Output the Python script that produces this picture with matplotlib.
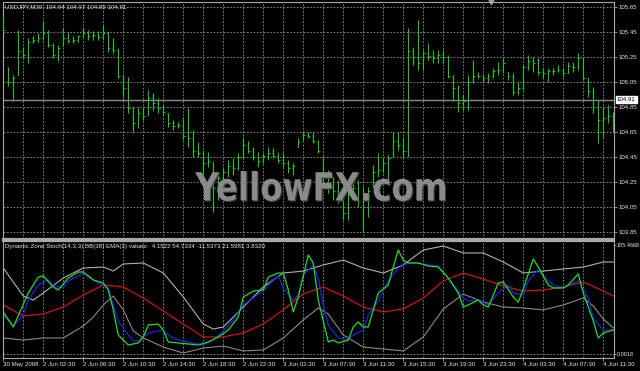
import numpy as np
import matplotlib
matplotlib.use('Agg')
import matplotlib.pyplot as plt
from matplotlib.textpath import TextPath
from matplotlib.patches import PathPatch
from matplotlib.font_manager import FontProperties
from matplotlib.transforms import Affine2D, IdentityTransform

plt.rcParams['font.family'] = ['Liberation Sans', 'DejaVu Sans']

# USDJPY M30 bars
high = [105.58, 105.17, 105.11, 105.47, 105.33, 105.40, 105.42, 105.44, 105.54, 105.47,
        105.36, 105.35, 105.48, 105.45, 105.42, 105.43, 105.48, 105.47, 105.46, 105.46,
        105.51, 105.46, 105.40, 105.32, 105.11, 105.09, 104.85, 104.85, 104.85, 104.99,
        104.96, 104.92, 104.87, 104.80, 104.75, 104.73, 104.77, 104.84, 104.67, 104.57,
        104.51, 104.49, 104.41, 104.32, 104.37, 104.43, 104.44, 104.48, 104.61, 104.58,
        104.53, 104.49, 104.48, 104.53, 104.52, 104.49, 104.48, 104.43, 104.40, 104.60,
        104.65, 104.65, 104.65, 104.59, 104.45, 104.35, 104.29, 104.27, 104.19, 104.21,
        104.27, 104.27, 104.21, 104.21, 104.39, 104.48, 104.45, 104.47, 104.65, 104.65,
        104.61, 105.48, 105.33, 105.55, 105.31, 105.36, 105.31, 105.31, 105.31, 105.27,
        105.11, 105.03, 104.95, 105.11, 105.23, 105.13, 105.11, 105.12, 105.16, 105.21,
        105.24, 105.13, 105.12, 105.05, 105.19, 105.27, 105.25, 105.24, 105.16, 105.16,
        105.16, 105.19, 105.16, 105.21, 105.21, 105.28, 105.24, 105.08, 105.01, 104.91,
        104.84, 104.87, 104.81]
low = [105.45, 105.02, 104.91, 105.11, 105.24, 105.20, 105.36, 105.37, 105.39, 105.33,
       105.24, 105.22, 105.34, 105.36, 105.36, 105.37, 105.41, 105.39, 105.39, 105.39,
       105.39, 105.29, 105.28, 105.08, 104.93, 104.80, 104.65, 104.68, 104.75, 104.79,
       104.83, 104.80, 104.79, 104.69, 104.67, 104.68, 104.59, 104.53, 104.45, 104.45,
       104.31, 104.37, 104.01, 104.11, 104.25, 104.29, 104.31, 104.35, 104.44, 104.48,
       104.43, 104.37, 104.40, 104.43, 104.44, 104.40, 104.37, 104.32, 104.31, 104.53,
       104.59, 104.60, 104.56, 104.48, 104.21, 104.16, 104.11, 104.08, 103.95, 103.95,
       104.13, 104.05, 103.85, 103.97, 104.21, 104.29, 104.32, 104.27, 104.45, 104.51,
       104.45, 104.45, 105.19, 105.15, 105.15, 105.23, 105.20, 105.20, 105.20, 105.08,
       104.91, 104.81, 104.83, 104.83, 105.04, 105.08, 105.05, 105.04, 105.08, 105.11,
       105.12, 105.07, 104.95, 104.95, 104.99, 105.15, 105.13, 105.11, 105.08, 105.05,
       105.11, 105.13, 105.09, 105.12, 105.13, 105.15, 105.07, 104.93, 104.80, 104.56,
       104.61, 104.72, 104.65]
close = [105.47, 105.05, 105.08, 105.30, 105.27, 105.37, 105.39, 105.40, 105.44, 105.35,
         105.27, 105.32, 105.40, 105.38, 105.39, 105.42, 105.44, 105.42, 105.43, 105.41,
         105.44, 105.32, 105.31, 105.10, 105.00, 104.84, 104.72, 104.80, 104.78, 104.92,
         104.88, 104.84, 104.81, 104.72, 104.70, 104.71, 104.62, 104.60, 104.50, 104.48,
         104.40, 104.42, 104.20, 104.28, 104.33, 104.38, 104.36, 104.45, 104.55, 104.50,
         104.45, 104.42, 104.46, 104.48, 104.46, 104.43, 104.40, 104.36, 104.38, 104.57,
         104.63, 104.62, 104.58, 104.50, 104.30, 104.22, 104.18, 104.12, 104.00, 104.15,
         104.20, 104.10, 104.05, 104.18, 104.33, 104.35, 104.40, 104.44, 104.58, 104.55,
         104.50, 105.30, 105.25, 105.20, 105.28, 105.26, 105.24, 105.27, 105.25, 105.10,
         105.00, 104.88, 104.90, 105.05, 105.10, 105.10, 105.08, 105.10, 105.14, 105.15,
         105.20, 105.10, 104.97, 105.00, 105.17, 105.22, 105.20, 105.13, 105.12, 105.14,
         105.14, 105.15, 105.12, 105.18, 105.17, 105.24, 105.08, 104.98, 104.85, 104.75,
         104.76, 104.78, 104.70]
first_open = 105.50
bid = 104.91

price_ticks = [105.65, 105.45, 105.25, 105.05, 104.85, 104.65, 104.45, 104.25, 104.05, 103.85]

# Dynamic Zone Stoch lines (bar index, value)
green_idx = [0, 2, 5, 7, 8, 10, 11, 13, 15, 16, 18, 20, 21, 22, 23, 25, 27, 28, 29, 31,
             32, 33, 35, 37, 39, 41, 43, 45, 47, 48, 50, 52, 53, 55, 56, 57, 58, 59, 61, 62,
             63, 65, 66, 67, 69, 70, 71, 72, 73, 75, 77, 78, 79, 80, 81, 83, 85, 87, 89, 91,
             92, 93, 95, 96, 97, 99, 100, 102, 103, 104, 106, 107, 109, 110, 112, 113, 115, 116,
             118, 119, 120, 122]
green_val = [38.5, 24.8, 56.0, 70.6, 71.6, 61.5, 58.7, 69.7, 75.2, 75.2, 67.9, 65.1, 58.7,
             40.4, 17.4, 8.3, 10.1, 15.6, 26.6, 27.5, 22.0, 11.0, 10.1, 9.2, 8.3, 11.0, 15.6,
             22.0, 33.9, 52.3, 57.8, 58.7, 70.6, 74.3, 74.3, 58.7, 38.5, 52.3, 90.8, 83.5,
             49.5, 11.0, 12.8, 10.1, 12.8, 24.8, 29.4, 24.8, 24.8, 56.0, 63.3, 79.8, 95.4,
             86.2, 83.5, 83.5, 80.7, 79.8, 69.7, 56.0, 43.1, 45.0, 49.5, 45.0, 43.1, 65.1,
             66.1, 52.3, 47.7, 59.6, 87.2, 79.8, 63.3, 60.6, 60.6, 63.3, 73.4, 56.0, 30.3,
             14.7, 19.3, 22.0]
blue_idx = [0, 2, 4, 5, 7, 9, 10, 12, 13, 15, 16, 18, 19, 21, 22, 23, 25, 26, 27, 29,
            31, 32, 34, 36, 38, 40, 42, 44, 46, 48, 50, 52, 53, 55, 56, 58, 59, 60, 62, 63,
            64, 65, 67, 69, 70, 72, 73, 75, 77, 79, 81, 83, 85, 87, 89, 91, 92, 93, 95, 97,
            99, 101, 102, 104, 105, 107, 108, 110, 112, 114, 115, 117, 118, 120, 122]
blue_val = [35.8, 25.7, 35.8, 49.5, 63.3, 67.9, 62.4, 60.6, 67.0, 71.6,
            74.3, 67.9, 65.1, 60.6, 45.0, 30.3, 17.4, 11.9, 11.9, 19.3,
            21.1, 21.1, 14.7, 11.9, 10.1, 8.3, 12.8, 21.1, 31.2, 45.0,
            51.4, 57.8, 63.3, 71.6, 60.6, 49.5, 54.1, 72.5, 81.7, 69.7,
            45.0, 26.6, 14.7, 12.8, 17.4, 22.0, 35.8, 48.6, 67.0, 78.9,
            83.5, 83.5, 81.7, 80.7, 69.7, 57.8, 51.4, 48.6, 49.5, 45.0,
            56.0, 63.3, 56.0, 54.1, 67.0, 77.1, 71.6, 63.3, 60.6, 65.1,
            67.0, 51.4, 33.0, 22.0, 22.0]
red_idx = list(range(0, 121, 4)) + [122]
red_val = [45.0, 34.9, 36.7, 43.1, 54.1, 63.3, 61.5, 51.4, 39.4, 27.5, 15.6, 15.6, 19.3,
           27.5, 40.4, 55.0, 61.5, 53.2, 43.1, 38.5, 41.3, 51.4, 67.0, 74.3, 68.8, 62.4,
           57.8, 58.7, 61.5, 66.1, 57.8, 53.2]
upper_idx = [0, 4, 6, 8, 12, 16, 20, 22, 24, 28, 32, 36, 40, 42, 44, 48, 52, 56, 60, 64,
             68, 72, 76, 80, 84, 88, 92, 96, 100, 104, 108, 112, 116, 120, 122]
upper_val = [78.9, 53.2, 49.5, 56.0, 69.7, 78.9, 79.8, 76.1, 82.6, 83.5, 74.3, 52.3, 27.5,
             22.9, 24.8, 43.1, 61.5, 74.3, 76.1, 81.7, 86.2, 78.9, 74.3, 81.7, 95.4, 99.1,
             92.7, 92.7, 84.4, 74.3, 76.1, 78.0, 79.8, 84.4, 84.4]
lower_idx = [0, 4, 8, 12, 16, 18, 20, 22, 24, 26, 28, 32, 36, 40, 44, 48, 52, 56, 60, 63,
             65, 68, 72, 76, 80, 84, 88, 92, 96, 100, 104, 108, 112, 116, 118, 120, 122]
lower_val = [14.7, 12.8, 14.7, 14.7, 25.7, 33.9, 45.0, 53.2, 40.4, 21.1, 14.7, 6.4, 0.9,
             5.5, 7.3, 2.8, 3.7, 14.7, 31.2, 42.2, 36.7, 17.4, 6.4, 4.6, 2.8, 15.6, 41.3,
             55.0, 47.7, 43.1, 42.2, 40.4, 45.0, 51.4, 44.0, 32.1, 23.9]

time_bars = list(range(0, 121, 8))
time_labels = ['30 May 2008', '2 Jun 02:30', '2 Jun 06:30', '2 Jun 10:30', '2 Jun 14:30',
               '2 Jun 18:30', '2 Jun 22:30', '3 Jun 02:30', '3 Jun 07:30', '3 Jun 11:30',
               '3 Jun 15:30', '3 Jun 19:30', '3 Jun 23:30', '4 Jun 03:30', '4 Jun 07:30',
               '4 Jun 11:30']

W, H = 640, 371
BAR = '#22c322'
GRID = '#9a9a9a'
FRAME = '#a8a8a8'
TXT = '#e6e6e6'
FS = 4.4

fig = plt.figure(figsize=(W / 100, H / 100), dpi=100, facecolor='black')


def px_axes(x0, y0, x1, y1):
    return fig.add_axes([x0 / W, 1 - y1 / H, (x1 - x0) / W, (y1 - y0) / H])


ax1 = px_axes(3, 2, 614, 239)
ax2 = px_axes(3, 241, 614, 358)
for ax in (ax1, ax2):
    ax.set_facecolor('black')
    for s in ax.spines.values():
        s.set_color(FRAME)
        s.set_linewidth(0.8)
    ax.set_xlim(-0.06, 122.14)
ax1.spines['bottom'].set_linewidth(1.6)
ax2.spines['top'].set_linewidth(1.6)

# price bars
idx = np.arange(len(high))
opens = np.clip(np.r_[first_open, close[:-1]], low, high)
ax1.vlines(idx, low, high, color=BAR, lw=0.8, zorder=3)
ax1.hlines(opens, idx - 0.3, idx, color=BAR, lw=0.7, zorder=3)
ax1.hlines(close, idx, idx + 0.3, color=BAR, lw=0.7, zorder=3)
ax1.axhline(bid, color='#8c8c8c', lw=1.0, zorder=2)

ax1.set_ylim(105.65 - (239 - 7) * 0.008, 105.65 + 5 * 0.008)
ax1.set_yticks(price_ticks)
ax1.set_yticklabels(['%.2f' % p for p in price_ticks])
ax1.set_xticks(np.arange(4, 123, 4))
ax1.set_xticklabels([])
ax1.yaxis.tick_right()
ax1.tick_params(axis='y', colors=FRAME, labelcolor=TXT, labelsize=FS, length=2, width=0.6, pad=1)
ax1.tick_params(axis='x', length=0)
ax1.grid(True, color=GRID, ls=(0, (2, 2)), lw=0.6)
ax1.annotate('%.2f' % bid, xy=(1, bid), xycoords=('axes fraction', 'data'),
             xytext=(2.2, 0), textcoords='offset points', ha='left', va='center',
             fontsize=FS, color='black',
             bbox=dict(boxstyle='square,pad=0.2', fc='white', ec='white'))
ax1.plot([97.6], [1.0], marker='v', ms=3.5, color='#a0a0a0',
         transform=ax1.get_xaxis_transform(), clip_on=False)

# indicator window
ax2.plot(upper_idx, upper_val, color='#b0b0b0', lw=0.8)
ax2.plot(lower_idx, lower_val, color='#8a8a8a', lw=0.8)
ax2.plot(red_idx, red_val, color='#d01414', lw=0.9)
ax2.plot(blue_idx, blue_val, color='#1428e0', lw=0.9)
ax2.plot(green_idx, green_val, color='#22dd22', lw=0.9)
ax2.set_ylim((354 - 358) / 1.09, (354 - 241) / 1.09)
ax2.set_yticks([100, 0])
ax2.set_yticklabels(['105.4668', '0.0018'])
ax2.yaxis.tick_right()
ax2.tick_params(axis='y', colors=FRAME, labelcolor=TXT, labelsize=4.0, length=1.5, width=0.6, pad=0.6)
ax2.set_xticks(time_bars)
ax2.set_xticklabels(time_labels, ha='left')
ax2.set_xticks(np.arange(4, 123, 8), minor=True)
ax2.tick_params(axis='x', which='major', colors=FRAME, labelcolor=TXT, labelsize=FS,
                length=2, width=0.6, pad=1.2)
ax2.tick_params(axis='x', which='minor', length=0)
ax2.grid(True, axis='x', which='both', color=GRID, ls=(0, (2, 2)), lw=0.6)
ax2.axhline(0, color=GRID, ls=(0, (2, 2)), lw=0.6)

fig.text(5 / W, 1 - 7 / H, 'USDJPY,M30  104.94 104.97 104.89 104.91',
         color=TXT, fontsize=FS, ha='left', va='center')
fig.text(5 / W, 1 - 246.5 / H,
         'Dynamic Zone Stoch(14,3,3) BB(38) EMA(3) values:  4.1522 54.7334 -11.5373 21.5981 3.8320',
         color=TXT, fontsize=FS, ha='left', va='center')

# watermark
tp = TextPath((0, 0), 'YellowFX.com', size=1, prop=FontProperties(family='DejaVu Sans', weight='bold'))
ext = tp.get_extents()
sx, sy = 250 / ext.width, 30 / ext.height
for dx, dy, col, z in [(1.2, -1.2, '#3c3c3c', 9), (0, 0, '#8a8a8a', 10)]:
    tr = Affine2D().translate(-ext.x0, -ext.y0).scale(sx, sy).translate(195 + dx, H - 201 + dy)
    fig.add_artist(PathPatch(tr.transform_path(tp), fc=col, ec='none',
                             transform=IdentityTransform(), zorder=z))

fig.savefig('out.png', dpi=100, facecolor='black')
